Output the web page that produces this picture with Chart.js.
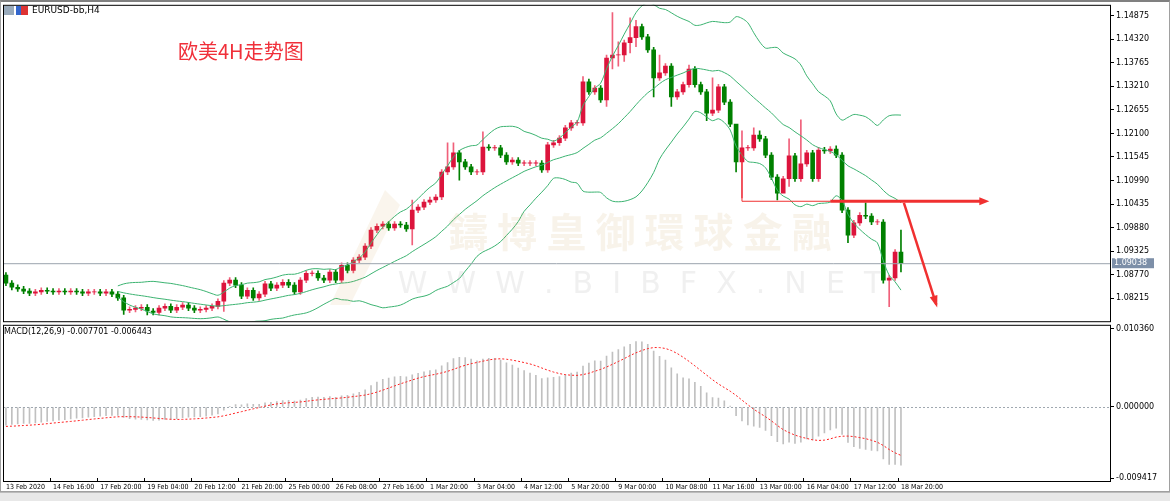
<!DOCTYPE html>
<html><head><meta charset="utf-8">
<script src="https://cdn.jsdelivr.net/npm/chart.js@4.4.1/dist/chart.umd.min.js"></script>
<style>
html,body{margin:0;padding:0;background:#fff;width:1170px;height:501px;overflow:hidden;font-family:"DejaVu Sans",sans-serif}
#frame{position:absolute;left:0;top:0;width:1168px;height:489px;border:1px solid #a0a0a0;border-top:2px solid #808080}
#c1{position:absolute;left:0;top:-2px}
#c2{position:absolute;left:0;top:322px}
#title{position:absolute;left:32px;top:5px;font:9px "DejaVu Sans";color:#000}
#icons{position:absolute;left:4px;top:6px;width:24px;height:9px;background:linear-gradient(90deg,#9ab 0 10px,#fff 10px 12px,#36c 12px 17px,#d33 17px 24px)}
#bottom{position:absolute;left:0;top:492px;width:1170px;height:9px;background:#e8e8e8;border-top:1px solid #bbb}
</style></head><body>
<div id="frame"></div>
<canvas id="c1" width="1170" height="330"></canvas>
<canvas id="c2" width="1170" height="176"></canvas>
<div id="icons"></div>
<div id="title">EURUSD-bb,H4</div>
<div id="bottom"></div>
<script>
const timeLabels = ["13 Feb 2020","14 Feb 16:00","17 Feb 20:00","19 Feb 04:00","20 Feb 12:00","21 Feb 20:00","25 Feb 00:00","26 Feb 08:00","27 Feb 16:00","1 Mar 20:00","3 Mar 04:00","4 Mar 12:00","5 Mar 20:00","9 Mar 00:00","10 Mar 08:00","11 Mar 16:00","13 Mar 00:00","16 Mar 04:00","17 Mar 12:00","18 Mar 20:00"];
const firstOpen = 1.0876;
const closes = [
1.0857,1.0847,1.0843,1.0838,1.0833,1.0836,1.0840,1.0838,1.0836,1.0838,
1.0836,1.0838,1.0836,1.0833,1.0836,1.0836,1.0833,1.0836,1.0831,1.0822,
1.0793,1.0795,1.0798,1.0800,1.0791,1.0788,1.0798,1.0802,1.0793,1.0800,
1.0805,1.0798,1.0793,1.0795,1.0798,1.0802,1.0814,1.0857,1.0864,1.0852,
1.0826,1.0840,1.0822,1.0831,1.0855,1.0845,1.0852,1.0859,1.0852,1.0836,
1.0864,1.0880,1.0880,1.0869,1.0864,1.0883,1.0864,1.0899,1.0887,1.0911,
1.0918,1.0944,1.0982,1.0991,1.0996,1.0987,1.0996,1.0994,1.0985,1.1029,
1.1036,1.1048,1.1053,1.1060,1.1119,1.1131,1.1164,1.1143,1.1131,1.1119,
1.1119,1.1178,1.1176,1.1176,1.1159,1.1143,1.1147,1.1140,1.1140,1.1140,
1.1140,1.1124,1.1183,1.1188,1.1199,1.1223,1.1235,1.1235,1.1332,1.1308,
1.1317,1.1289,1.1388,1.1395,1.1395,1.1424,1.1436,1.1462,1.1438,1.1407,
1.1341,1.1353,1.1369,1.1296,1.1308,1.1325,1.1362,1.1325,1.1308,1.1258,
1.1265,1.1320,1.1284,1.1232,1.1143,1.1176,1.1176,1.1206,1.1197,1.1159,
1.1107,1.1069,1.1103,1.1157,1.1103,1.1138,1.1164,1.1103,1.1171,1.1169,
1.1173,1.1159,1.1029,1.0970,1.0999,1.1017,1.1015,1.1001,1.1001,1.0864,
1.0869,1.0930,1.0904];
const highOverrides = {69:1.1053,72:1.1060,75:1.1188,76:1.1188,81:1.1214,98:1.1344,102:1.1395,103:1.1495,104:1.1426,106:1.1483,107:1.1477,111:1.1395,116:1.1371,120:1.1341,124:1.1160,125:1.1216,127:1.1223,128:1.1216,133:1.1197,135:1.1242,141:1.1181,146:1.1046,152:1.0982};
const lowOverrides = {20:1.0783,24:1.0782,37:1.0790,69:1.0947,77:1.1100,102:1.1274,103:1.1362,104:1.1369,105:1.1380,106:1.1400,107:1.1415,110:1.1296,113:1.1274,119:1.1240,124:1.1119,125:1.1058,131:1.1053,132:1.1085,133:1.1085,143:1.0952,149:1.0857,150:1.0801,152:1.0883};
const macdFast = 12, macdSlow = 26, macdSignal = 9, bbPeriod = 20, bbDev = 2;
const macdStart = -0.0026; // first MACD value
const lastPrice = 1.09038;
const priceTicks = [1.14875,1.14320,1.13765,1.13210,1.12655,1.12100,1.11545,1.10990,1.10435,1.09880,1.09325,1.08770,1.08215];
const macdTicks = [0.010360,0.0,-0.009417];
const supportLevel = 1.1050;

const N = closes.length, PAD = 35, TOTAL = N + PAD;
const opens = closes.map((c,i)=> i===0 ? firstOpen : closes[i-1]);
const highs = closes.map((c,i)=> highOverrides[i] ?? Math.max(c,opens[i]) + 0.0006);
const lows = closes.map((c,i)=> lowOverrides[i] ?? Math.min(c,opens[i]) - 0.0006);
const labels = []; for(let i=0;i<TOTAL;i++){ labels.push(i%8===0 && i/8 < timeLabels.length ? timeLabels[i/8] : ''); }
const up = closes.map((c,i)=> c>=opens[i]);
const RED='#dc143c', GREEN='#008000';
const bodies = closes.map((c,i)=>{ let o=opens[i]; if(Math.abs(c-o)<0.00005){o=c+0.00005;} return [o,c]; });
const wicks = closes.map((c,i)=>[lows[i],highs[i]]);
const bbMid=[],bbUp=[],bbLo=[];
for(let i=0;i<N;i++){ if(i<bbPeriod-1){bbMid.push(null);bbUp.push(null);bbLo.push(null);continue;}
 const w=closes.slice(i-bbPeriod+1,i+1); const m=w.reduce((a,b)=>a+b,0)/bbPeriod;
 const sd=Math.sqrt(w.reduce((a,b)=>a+(b-m)*(b-m),0)/bbPeriod);
 bbMid.push(m);bbUp.push(m+bbDev*sd);bbLo.push(m-bbDev*sd);}
let e1=closes[0],e2=closes[0]-macdStart; const macd=[],sig=[]; const hist=[macdStart,macdStart,macdStart,macdStart,macdStart,macdStart,macdStart,macdStart];
for(let i=0;i<N;i++){ e1+= (closes[i]-e1)*2/(macdFast+1); e2+=(closes[i]-e2)*2/(macdSlow+1); macd.push(e1-e2); hist.push(e1-e2);
 const w=hist.slice(hist.length-macdSignal); sig.push(w.reduce((a,b)=>a+b,0)/macdSignal);}

const fontTick={family:'DejaVu Sans',size:8};
const yFit = s=>{s.width=60;};
const overlay={id:'ov',afterDatasetsDraw(ch){
 const c=ch.ctx,a=ch.chartArea,x=ch.scales.x,y=ch.scales.y;
 c.save();
 c.globalAlpha=0.13;c.fillStyle='#c8a060';c.font='bold 40px "Noto Sans CJK TC"';c.textAlign='center';c.textBaseline='middle';
 c.fillText('鑄 博 皇 御 環 球 金 融',640,234);
 c.fillStyle='#808080';c.globalAlpha=0.12;c.font='30px "DejaVu Sans"';
 c.fillText('W  W  W  .  B  I  B  F  X  .  N  E  T',640,287);
 c.globalAlpha=0.1;c.fillStyle='#d0a050';c.beginPath();c.moveTo(330,307);c.lineTo(385,192);c.lineTo(400,207);c.lineTo(350,307);c.fill();
 c.globalAlpha=1;
 const py=y.getPixelForValue(lastPrice);
 c.strokeStyle='#9aa3ad';c.lineWidth=1;c.beginPath();c.moveTo(a.left,py+0.5);c.lineTo(a.right,py+0.5);c.stroke();
 c.fillStyle='#7d8fa8';c.fillRect(a.right+2,py-5,42,10);c.fillStyle='#fff';c.font='8px "DejaVu Sans"';c.textAlign='left';c.fillText(lastPrice.toFixed(5),a.right+4,py);
 const sy=y.getPixelForValue(supportLevel), x0=x.getPixelForValue(125), x1=x.getPixelForValue(140), x2=x.getPixelForValue(167);
 c.strokeStyle='#f03030';c.lineWidth=1;c.beginPath();c.moveTo(x0,y.getPixelForValue(1.1172));c.lineTo(x0,sy);c.lineTo(x1,sy);c.stroke();
 c.lineWidth=3;c.beginPath();c.moveTo(x1,sy);c.lineTo(x2-8,sy);c.stroke();
 c.fillStyle='#f03030';c.beginPath();c.moveTo(x2,sy);c.lineTo(x2-10,sy-4);c.lineTo(x2-10,sy+4);c.fill();
 const dx0=x.getPixelForValue(152.5),dy0=y.getPixelForValue(1.1046),dx1=x.getPixelForValue(158),dy1=y.getPixelForValue(1.0806);
 c.lineWidth=2.5;c.beginPath();c.moveTo(dx0,dy0);c.lineTo(dx1,dy1);c.stroke();
 const ang=Math.atan2(dy1-dy0,dx1-dx0);c.beginPath();c.moveTo(dx1+3*Math.cos(ang),dy1+3*Math.sin(ang));
 c.lineTo(dx1-9*Math.cos(ang)+4*Math.sin(ang),dy1-9*Math.sin(ang)-4*Math.cos(ang));c.lineTo(dx1-9*Math.cos(ang)-4*Math.sin(ang),dy1-9*Math.sin(ang)+4*Math.cos(ang));c.fill();
 c.fillStyle='#f0303a';c.font='20px "Noto Sans CJK SC"';c.textAlign='left';c.fillText('欧美4H走势图',178,53);
 c.strokeStyle='#000';c.lineWidth=1;c.strokeRect(a.left+0.5,a.top+0.5,a.right-a.left,a.bottom-a.top);
 c.restore();}};
new Chart(document.getElementById('c1'),{type:'bar',
 data:{labels,datasets:[
  {type:'line',data:bbUp,borderColor:'#3cb371',borderWidth:1,pointRadius:0,tension:0.3,order:0},
  {type:'line',data:bbMid,borderColor:'#3cb371',borderWidth:1,pointRadius:0,tension:0.3,order:0},
  {type:'line',data:bbLo,borderColor:'#3cb371',borderWidth:1,pointRadius:0,tension:0.3,order:0},
  {data:wicks,backgroundColor:up.map(u=>u?'#f0607a':GREEN),barThickness:1,grouped:false,order:2},
  {data:bodies,backgroundColor:up.map(u=>u?RED:GREEN),barThickness:4,grouped:false,order:1}]},
 options:{responsive:false,animation:false,layout:{padding:{left:3,top:0,bottom:0,right:0}},
  plugins:{legend:{display:false},tooltip:{enabled:false}},
  scales:{x:{display:false,offset:true},
   y:{position:'right',min:1.0767,max:1.15135,afterFit:yFit,afterBuildTicks:s=>{s.ticks=priceTicks.map(v=>({value:v}));},
    grid:{drawOnChartArea:false,tickLength:4,color:'#000'},border:{display:false},
    ticks:{font:fontTick,color:'#000',padding:2,callback:v=>v.toFixed(5)}}}},
 plugins:[overlay]});
const overlay2={id:'ov2',afterDatasetsDraw(ch){const c=ch.ctx,a=ch.chartArea,y=ch.scales.y;c.save();
 const zy=Math.round(y.getPixelForValue(0))+0.5;c.strokeStyle='#a0a8b0';c.setLineDash([2,2]);c.beginPath();c.moveTo(a.left,zy);c.lineTo(a.right,zy);c.stroke();c.setLineDash([]);
 c.strokeStyle='#000';c.strokeRect(a.left+0.5,a.top-3.5,a.right-a.left,a.bottom-a.top+7);
 c.fillStyle='#000';c.font='8px "DejaVu Sans"';c.textBaseline='middle';c.fillText('MACD(12,26,9) -0.007701 -0.006443',4,a.top+3);c.restore();}};
new Chart(document.getElementById('c2'),{type:'bar',
 data:{labels,datasets:[
  {type:'line',data:sig,borderColor:'#ff2020',borderWidth:1,borderDash:[2,2],pointRadius:0,order:0},
  {data:macd,backgroundColor:'#c0c0c0',barThickness:1,order:1}]},
 options:{responsive:false,animation:false,layout:{padding:{left:3,top:4,bottom:0,right:0}},
  plugins:{legend:{display:false},tooltip:{enabled:false}},
  scales:{x:{offset:true,afterFit:s=>{s.height=20;},grid:{drawOnChartArea:false,tickLength:3,color:c=>labels[c.index]?'#000':'rgba(0,0,0,0)'},border:{display:false},
    ticks:{autoSkip:false,maxRotation:0,align:'start',font:{family:'DejaVu Sans Condensed',size:7},color:'#000',padding:2,callback:(v,i)=>labels[i]}},
   y:{position:'right',min:-0.009417,max:0.010360,afterFit:yFit,afterBuildTicks:s=>{s.ticks=macdTicks.map(v=>({value:v}));},
    grid:{drawOnChartArea:false,tickLength:4,color:'#000'},border:{display:false},
    ticks:{font:fontTick,color:'#000',padding:2,callback:v=>v.toFixed(6)}}}},
 plugins:[overlay2]});
</script></body></html>
